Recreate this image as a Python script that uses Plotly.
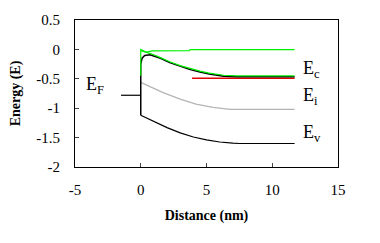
import plotly.graph_objects as go

FONT = "Liberation Serif, Times New Roman, serif"

# Conduction band (black)
ec_x = [0, 0, 0.1, 0.3, 0.7, 1.5, 2.2, 3.0, 3.7, 4.5, 5.2, 6.3, 7.3, 11.7]
ec_y = [-1.12, -0.25, -0.15, -0.105, -0.09, -0.15, -0.225, -0.29, -0.34, -0.385, -0.42, -0.455, -0.465, -0.465]
# Green curves
ga_x = [0, 0, 0.4, 0.9, 3.7, 3.75, 11.7]
ga_y = [-0.45, 0.0, -0.045, -0.025, -0.02, -0.005, -0.005]
gb_x = [0, 0.8, 1.5, 2.2, 3.0, 3.7, 4.5, 5.2, 6.3, 7.3, 11.7]
gb_y = [-0.02, -0.075, -0.14, -0.21, -0.275, -0.325, -0.37, -0.405, -0.44, -0.45, -0.45]
# Red reference line
red_x = [3.9, 11.7]
red_y = [-0.49, -0.49]
# Intrinsic level (gray)
ei_x = [0, 1.7, 3.0, 4.2, 5.5, 6.8, 11.7]
ei_y = [-0.56, -0.735, -0.845, -0.93, -0.985, -1.02, -1.02]
# Valence band (black)
ev_x = [0, 1, 2, 3, 4, 5, 6, 7, 7.5, 11.7]
ev_y = [-1.12, -1.23, -1.33, -1.42, -1.49, -1.54, -1.575, -1.595, -1.6, -1.6]
# Fermi level
ef_x = [-1.5, 0]
ef_y = [-0.78, -0.78]

x_ticks = [-5, 0, 5, 10, 15]
x_ticktext = ["-5", "0", "5", "10", "15"]
y_ticks = [-2, -1.5, -1, -0.5, 0, 0.5]
y_ticktext = ["-2", "-1.5", "-1", "-0.5", "0", "0.5"]

labels = ["E<sub>F</sub>", "E<sub>c</sub>", "E<sub>i</sub>", "E<sub>v</sub>"]
label_x = [-4.3, 12.2, 12.2, 12.2]
label_y = [-0.62, -0.35, -0.8, -1.43]

fig = go.Figure()
fig.add_trace(go.Scatter(x=ei_x, y=ei_y, mode="lines", line=dict(color="#b4b4b4", width=1.2)))
fig.add_trace(go.Scatter(x=ev_x, y=ev_y, mode="lines", line=dict(color="black", width=1.2)))
fig.add_trace(go.Scatter(x=ef_x, y=ef_y, mode="lines", line=dict(color="black", width=1.2)))
fig.add_trace(go.Scatter(x=red_x, y=red_y, mode="lines", line=dict(color="#e00000", width=1.5)))
fig.add_trace(go.Scatter(x=ec_x, y=ec_y, mode="lines", line=dict(color="black", width=1.5)))
fig.add_trace(go.Scatter(x=ga_x, y=ga_y, mode="lines", line=dict(color="#00ee00", width=1.2)))
fig.add_trace(go.Scatter(x=gb_x, y=gb_y, mode="lines", line=dict(color="#00ee00", width=1.2)))

for t, x, y in zip(labels, label_x, label_y):
    fig.add_annotation(x=x, y=y, text=t, showarrow=False, xanchor="left", yanchor="middle",
                       font=dict(family=FONT, size=18, color="black"))

fig.update_layout(
    width=380, height=243, autosize=False,
    margin=dict(l=75, r=42, t=17, b=76),
    paper_bgcolor="white", plot_bgcolor="white",
    showlegend=False,
    font=dict(family=FONT, size=15, color="black"),
)
fig.update_xaxes(range=[-5, 15], tickvals=x_ticks, ticktext=x_ticktext, ticks="inside", ticklen=4,
                 showline=True, mirror=True, linecolor="black", linewidth=1,
                 showgrid=False, zeroline=False, ticklabelstandoff=9,
                 tickfont=dict(family=FONT, size=15, color="black"),
                 title=dict(text="<b>Distance (nm)</b>", font=dict(family=FONT, size=14, color="black"), standoff=13))
fig.update_yaxes(range=[-2, 0.5], tickvals=y_ticks, ticktext=y_ticktext, ticks="inside", ticklen=4,
                 showline=True, mirror=True, linecolor="black", linewidth=1,
                 showgrid=False, zeroline=False, ticklabelstandoff=11,
                 tickfont=dict(family=FONT, size=15, color="black"),
                 title=dict(text="<b>Energy (E)</b>", font=dict(family=FONT, size=14, color="black"), standoff=12))

fig.write_html("out.html")
